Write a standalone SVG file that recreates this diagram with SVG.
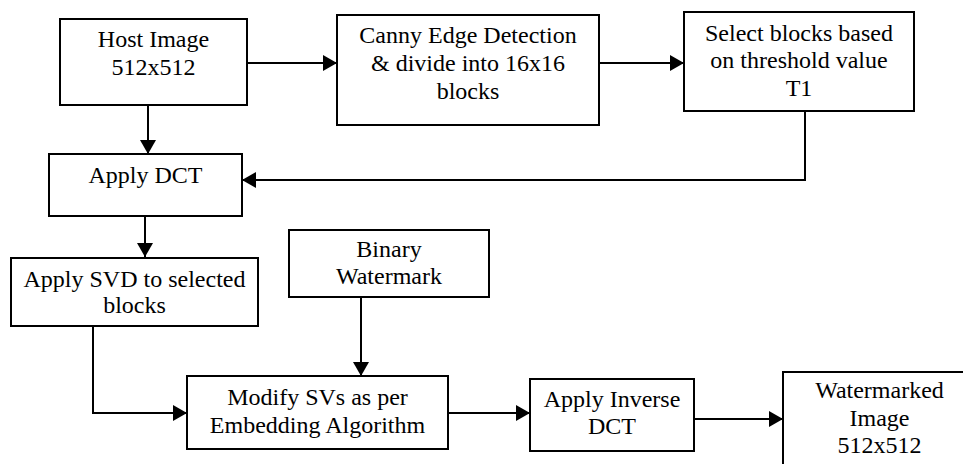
<svg xmlns="http://www.w3.org/2000/svg" width="963" height="464" viewBox="0 0 963 464">
<defs>
<style>
.box{fill:#fff;stroke:#000;stroke-width:2}
.lbl{font-family:"Liberation Serif","Times New Roman",serif;font-size:24px;fill:#000;text-anchor:middle}
.conn{fill:none;stroke:#000;stroke-width:2}
</style>
<marker id="arr" markerUnits="userSpaceOnUse" markerWidth="14" markerHeight="16" refX="14" refY="8" orient="auto" viewBox="0 0 14 16">
<path d="M0,0 L14,8 L0,16 z" fill="#000"/>
</marker>
</defs>
<rect width="963" height="464" fill="#fff"/>
<g id="connectors">
<line class="conn" x1="247" y1="63" x2="337" y2="63" marker-end="url(#arr)"/>
<line class="conn" x1="599" y1="63" x2="684" y2="63" marker-end="url(#arr)"/>
<polyline class="conn" points="805,111 805,180 242,180" marker-end="url(#arr)"/>
<line class="conn" x1="148" y1="105" x2="148" y2="154" marker-end="url(#arr)"/>
<line class="conn" x1="145" y1="216" x2="145" y2="257" marker-end="url(#arr)"/>
<line class="conn" x1="361" y1="297" x2="361" y2="376" marker-end="url(#arr)"/>
<polyline class="conn" points="93,326 93,413 187,413" marker-end="url(#arr)"/>
<line class="conn" x1="448" y1="413" x2="530" y2="413" marker-end="url(#arr)"/>
<line class="conn" x1="694" y1="419" x2="783" y2="419" marker-end="url(#arr)"/>
</g>
<g id="host">
<rect class="box" x="60" y="19" width="187" height="86"/>
<text class="lbl" x="153.5" y="47">Host Image</text>
<text class="lbl" x="153.5" y="75">512x512</text>
</g>
<g id="canny">
<rect class="box" x="337" y="15" width="262" height="110"/>
<text class="lbl" x="468" y="43">Canny Edge Detection</text>
<text class="lbl" x="468" y="71">&amp; divide into 16x16</text>
<text class="lbl" x="468" y="99">blocks</text>
</g>
<g id="select">
<rect class="box" x="684" y="12" width="230" height="99"/>
<text class="lbl" x="799" y="41">Select blocks based</text>
<text class="lbl" x="799" y="68">on threshold value</text>
<text class="lbl" x="799" y="96">T1</text>
</g>
<g id="dct">
<rect class="box" x="49" y="154" width="193" height="62"/>
<text class="lbl" x="145.5" y="183">Apply DCT</text>
</g>
<g id="svd">
<rect class="box" x="11" y="258" width="247" height="68"/>
<text class="lbl" x="134.5" y="287">Apply SVD to selected</text>
<text class="lbl" x="134.5" y="313">blocks</text>
</g>
<g id="binary">
<rect class="box" x="289" y="230" width="200" height="67"/>
<text class="lbl" x="389" y="257">Binary</text>
<text class="lbl" x="389" y="284">Watermark</text>
</g>
<g id="modify">
<rect class="box" x="187" y="376" width="261" height="73"/>
<text class="lbl" x="317.5" y="405">Modify SVs as per</text>
<text class="lbl" x="317.5" y="433">Embedding Algorithm</text>
</g>
<g id="inverse">
<rect class="box" x="530" y="379" width="164" height="72"/>
<text class="lbl" x="612" y="407">Apply Inverse</text>
<text class="lbl" x="612" y="434">DCT</text>
</g>
<g id="watermarked">
<rect class="box" x="783" y="372" width="193" height="100"/>
<text class="lbl" x="879.5" y="398">Watermarked</text>
<text class="lbl" x="879.5" y="426">Image</text>
<text class="lbl" x="879.5" y="453">512x512</text>
</g>
</svg>
